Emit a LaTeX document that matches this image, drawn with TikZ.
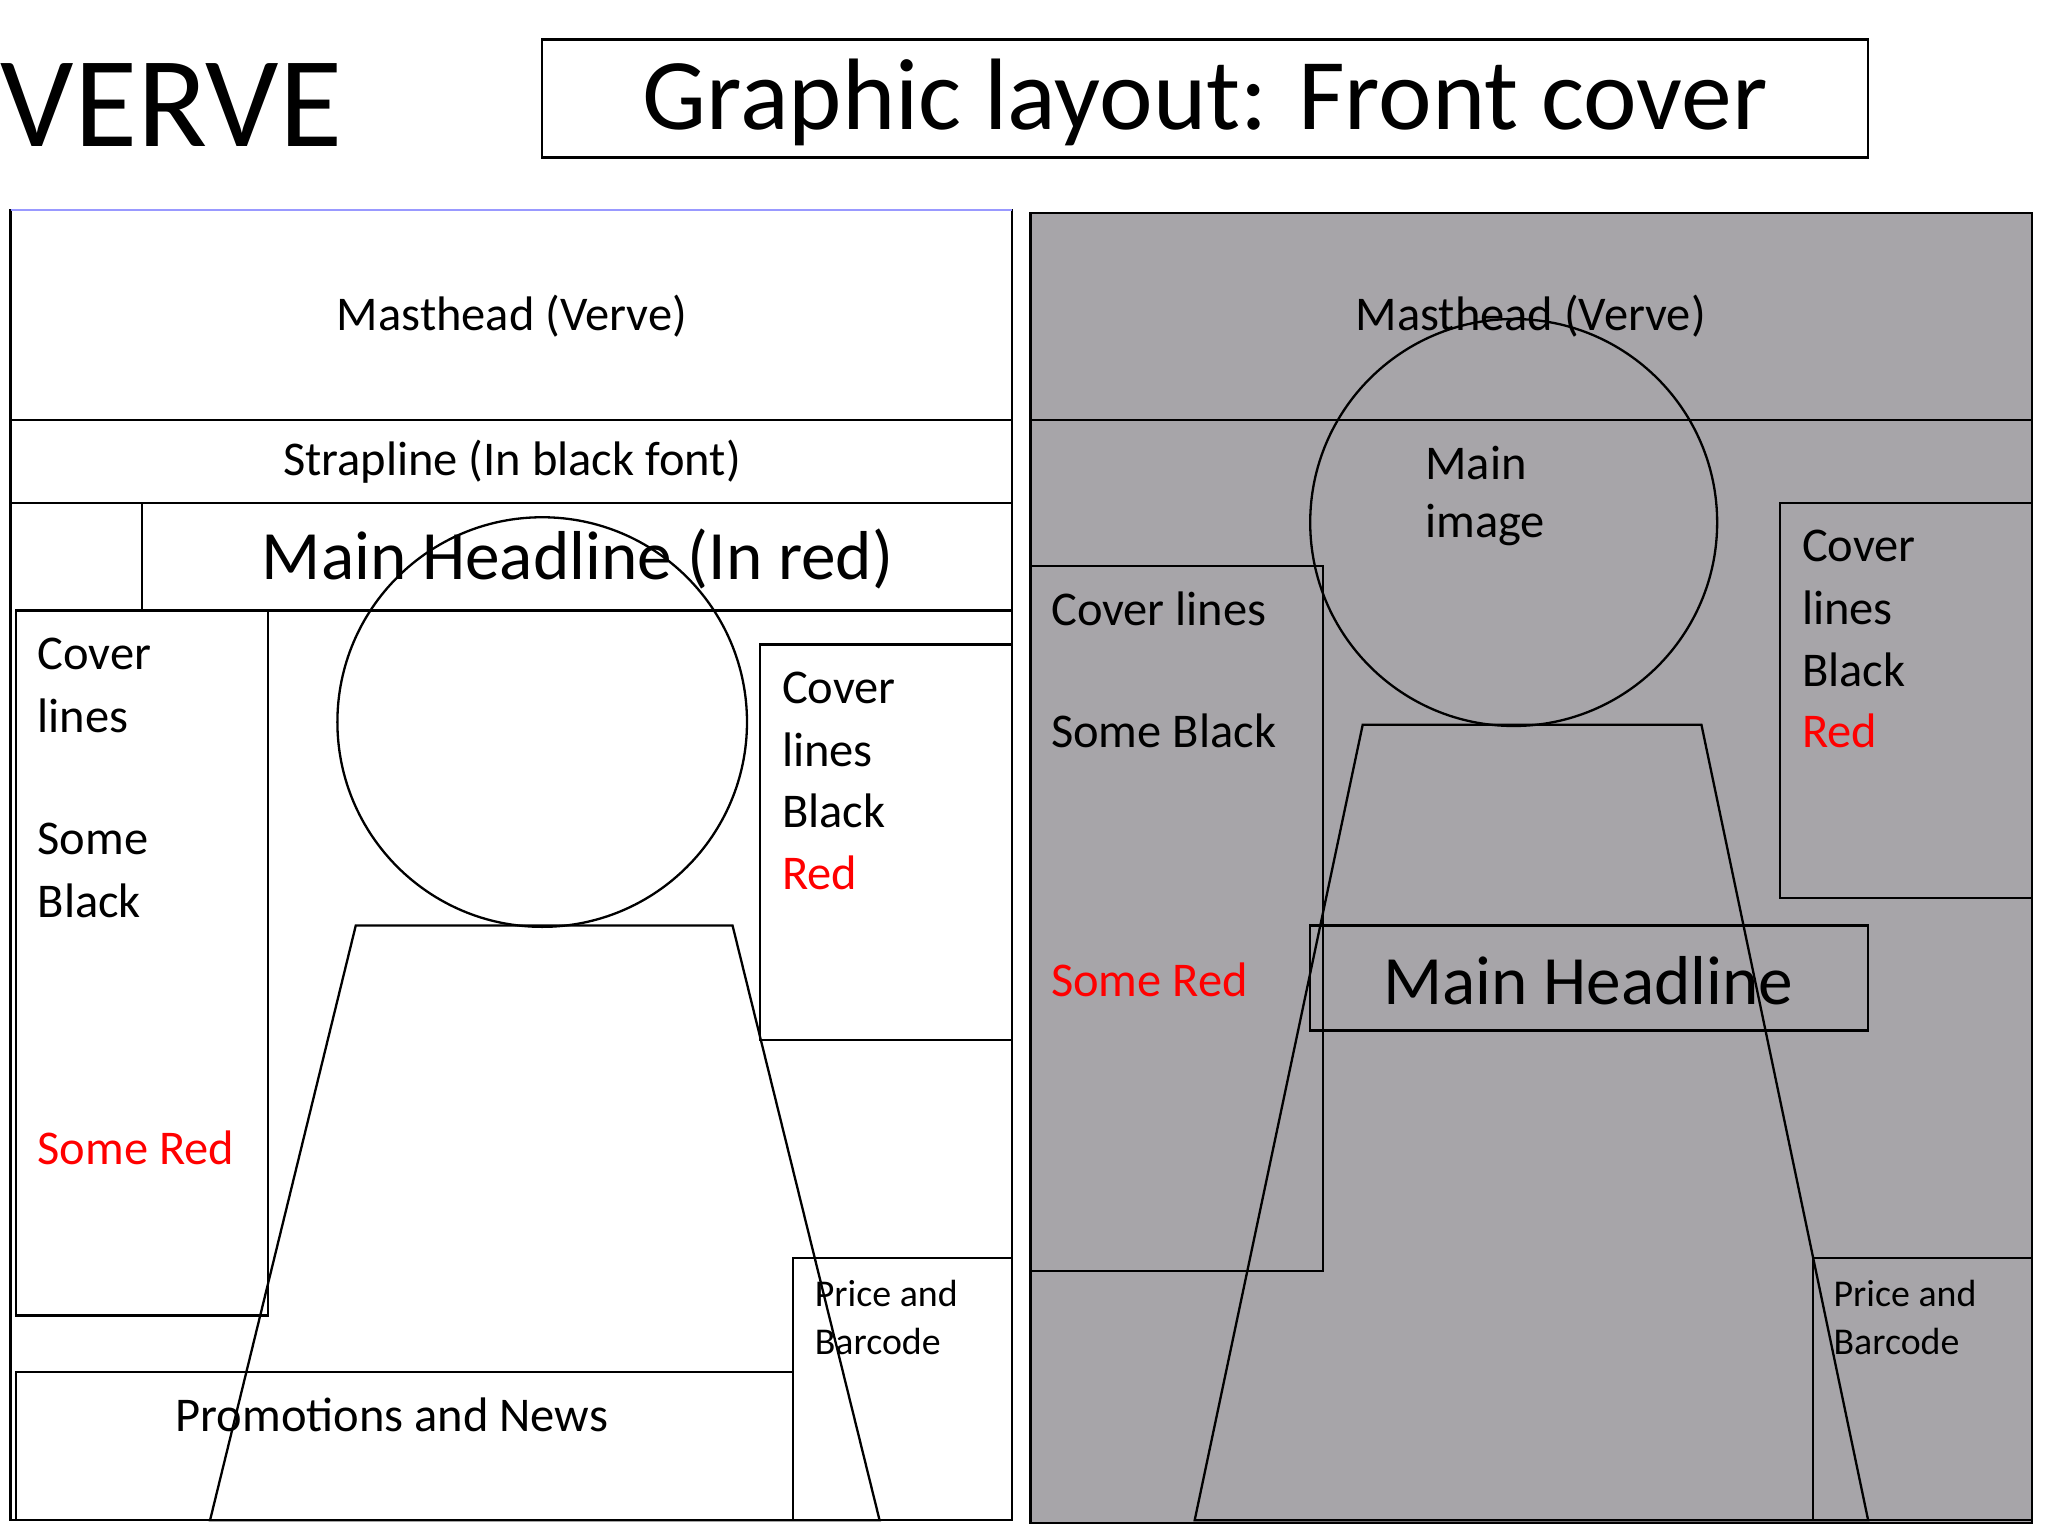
\documentclass[tikz,border=0pt]{standalone}
\usepackage{fontspec}
\setmainfont{Carlito}
\begin{document}
\begin{tikzpicture}[x=0.01cm,y=-0.01cm,
  bx/.style={draw=black,line width=0.5pt},
  tx/.style={inner sep=0pt,anchor=west,font=\fontsize{10.5}{13}\selectfont},
  sm/.style={inner sep=0pt,anchor=west,font=\fontsize{8.2}{10.5}\selectfont,align=left}]
\useasboundingbox (0,0) rectangle (1560,1170);
\fill[white] (0,0) rectangle (1560,1170);
% header
\node[inner sep=0pt,anchor=west,font=\fontsize{28}{30}\selectfont] (logo) at (0,80) {VERVE};
\draw[bx] (413,30) rectangle (1423,120);
\node[inner sep=0pt,font=\fontsize{22}{26}\selectfont] (title) at (918,78) {Graphic layout: Front cover};
% left panel
\draw[bx,draw=black] (8,160) rectangle (771,1158);
\draw[blue!40,line width=0.4pt] (8,160) -- (771,160);
\draw[bx] (8,320) -- (771,320);
\draw[bx] (8,383) -- (771,383);
\draw[bx] (108,383) rectangle (771,465);
\draw[bx] (12,465) rectangle (204,1002);
\draw[bx] (579,491) rectangle (771,792);
\draw[bx] (604,958) rectangle (771,1158);
\draw[bx] (12,1045) rectangle (604,1158);
\draw[bx] (413,550) circle (156);
\draw[bx] (271,705) -- (558,705) -- (670,1158) -- (160,1158) -- cycle;
\node[tx,anchor=center] (m1) at (390,241) {Masthead (Verve)};
\node[tx,anchor=center] (s1) at (390,352) {Strapline (In black font)};
\node[inner sep=0pt,font=\fontsize{15}{18}\selectfont] (h1) at (440,426) {Main Headline (In red)};
\node[tx] at (28,498) {Cover};
\node[tx] at (28,545) {lines};
\node[tx] at (28,639) {Some};
\node[tx] at (28,686) {Black};
\node[tx,text=red] at (28,874) {Some Red};
\node[tx] at (595,524) {Cover};
\node[tx] at (595,571) {lines};
\node[tx] at (595,618) {Black};
\node[tx,text=red] at (595,665) {Red};
\node[sm] at (620,985) {Price and};
\node[sm] at (620,1022) {Barcode};
\node[tx] at (133,1078) {Promotions and News};
% right panel
\fill[fill={rgb,255:red,167;green,165;blue,169}] (785,162) rectangle (1548,1160);
\draw[bx] (785,162) rectangle (1548,1160);
\draw[bx] (785,320) -- (1548,320);
\draw[bx] (785,431) rectangle (1008,968);
\draw[bx] (1356,383) rectangle (1548,684);
\draw[bx] (1381,958) rectangle (1548,1158);
\draw[bx] (998,705) rectangle (1423,785);
\draw[bx] (1153,398) circle (155);
\draw[bx] (1038,552) -- (1296,552) -- (1423,1158) -- (910,1158) -- cycle;
\node[tx,anchor=center] at (1166,241) {Masthead (Verve)};
\node[tx] at (1085,353) {Main};
\node[tx] at (1085,400) {image};
\node[tx] at (800,464) {Cover lines};
\node[tx] at (800,557) {Some Black};
\node[tx,text=red] at (800,746) {Some Red};
\node[tx] at (1372,416) {Cover};
\node[tx] at (1372,463) {lines};
\node[tx] at (1372,510) {Black};
\node[tx,text=red] at (1372,557) {Red};
\node[inner sep=0pt,font=\fontsize{15}{18}\selectfont] at (1210,747) {Main Headline};
\node[sm] at (1396,985) {Price and};
\node[sm] at (1396,1022) {Barcode};
\end{tikzpicture}
\end{document}
